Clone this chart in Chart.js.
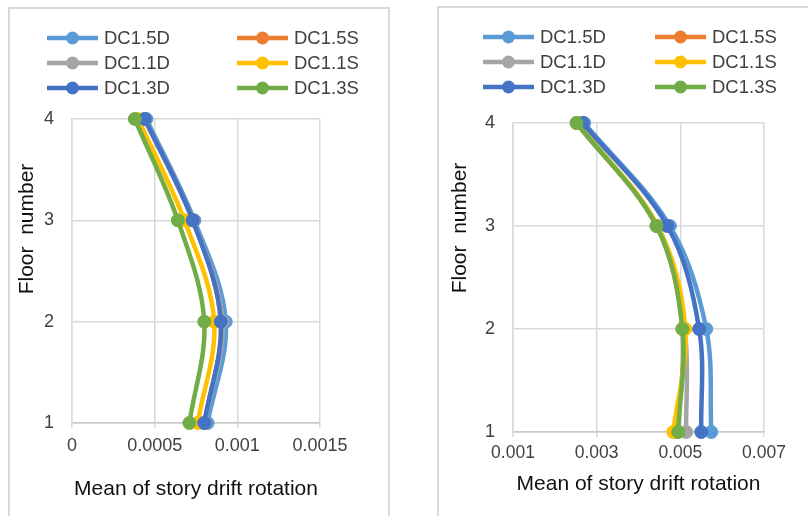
<!DOCTYPE html>
<html>
<head>
<meta charset="utf-8">
<script src="https://cdn.jsdelivr.net/npm/chart.js@4.4.1/dist/chart.umd.min.js"></script>
<style>
  body { margin: 0; background: #fff; width: 808px; height: 516px; overflow: hidden; position: relative; }
  .panel { position: absolute; border: 2px solid #d9d9d9; box-sizing: border-box; }
  canvas { position: absolute; }
</style>
</head>
<body>
<div class="panel" style="left:8px;top:7px;width:382px;height:560px"></div>
<div class="panel" style="left:437px;top:6px;width:420px;height:560px"></div>
<canvas id="left" width="376" height="506" style="left:10px;top:10px"></canvas>
<canvas id="right" width="368" height="506" style="left:440px;top:10px"></canvas>
<script>
// floors and labels
const floors = [1, 2, 3, 4];
const floorLabels = ['1', '2', '3', '4'];
const seriesNames = ['DC1.5D', 'DC1.5S', 'DC1.1D', 'DC1.1S', 'DC1.3D', 'DC1.3S'];
const seriesColors = ['#5b9bd5', '#ed7d31', '#a5a5a5', '#ffc000', '#4472c4', '#70ad47'];
const xTitle = 'Mean of story drift rotation';
const yTitleText = 'Floor  number';

// left chart: drift rotation at floors 1..4
const leftDC15D = [0.00082, 0.00093, 0.00074, 0.00045];
const leftDC15S = [0.00080, 0.00090, 0.00073, 0.00044];
const leftDC11D = [0.00080, 0.00091, 0.00073, 0.00044];
const leftDC11S = [0.00076, 0.00086, 0.00068, 0.00040];
const leftDC13D = [0.00080, 0.00090, 0.00073, 0.00044];
const leftDC13S = [0.00071, 0.00080, 0.00064, 0.00038];
const leftXTicks = [0, 0.0005, 0.001, 0.0015];
const leftXLabels = ['0', '0.0005', '0.001', '0.0015'];

// right chart
const rightDC15D = [0.00574, 0.00562, 0.00475, 0.00270];
const rightDC15S = [0.00492, 0.00505, 0.00443, 0.00252];
const rightDC11D = [0.00514, 0.00510, 0.00445, 0.00253];
const rightDC11S = [0.00483, 0.00512, 0.00446, 0.00254];
const rightDC13D = [0.00550, 0.00545, 0.00469, 0.00267];
const rightDC13S = [0.00495, 0.00505, 0.00443, 0.00252];
const rightXTicks = [0.001, 0.003, 0.005, 0.007];
const rightXLabels = ['0.001', '0.003', '0.005', '0.007'];

Chart.defaults.font.family = '"Liberation Sans", Arial, sans-serif';

// excel style legend, two columns
const excelLegend = {
  id: 'excelLegend',
  afterDraw(chart, args, opts) {
    const ctx = chart.ctx;
    ctx.save();
    ctx.font = opts.fontSize + 'px "Liberation Sans", Arial, sans-serif';
    ctx.textBaseline = 'middle';
    chart.data.datasets.forEach((ds, i) => {
      const x = opts.cols[i % 2];
      const y = opts.rows[Math.floor(i / 2)];
      ctx.strokeStyle = ds.borderColor;
      ctx.lineWidth = 4.5;
      ctx.beginPath();
      ctx.moveTo(x, y);
      ctx.lineTo(x + opts.lineLen, y);
      ctx.stroke();
      ctx.fillStyle = ds.borderColor;
      ctx.beginPath();
      ctx.arc(x + opts.lineLen / 2, y, 6.5, 0, Math.PI * 2);
      ctx.fill();
      ctx.fillStyle = '#404040';
      ctx.fillText(ds.label, x + opts.lineLen + 6, y + 1);
    });
    ctx.restore();
  }
};

// rotated y axis title (excel puts it above centre)
const yTitle = {
  id: 'yTitle',
  afterDraw(chart, args, opts) {
    const ctx = chart.ctx;
    ctx.save();
    ctx.translate(opts.x, opts.y);
    ctx.rotate(-Math.PI / 2);
    ctx.font = '21px "Liberation Sans", Arial, sans-serif';
    ctx.fillStyle = '#111';
    ctx.textAlign = 'center';
    ctx.textBaseline = 'middle';
    ctx.fillText(opts.text, 0, 0);
    ctx.restore();
  }
};

function makeChart(id, cfg) {
  const datasets = cfg.series.map((vals, i) => ({
    label: seriesNames[i],
    data: floors.map((f, k) => ({ x: vals[k], y: f })),
    borderColor: seriesColors[i],
    backgroundColor: seriesColors[i],
    pointBackgroundColor: seriesColors[i],
    pointBorderColor: seriesColors[i],
    borderWidth: 4.5,
    pointRadius: 6.5,
    pointBorderWidth: 1,
    tension: 0.35,
    clip: false,
    order: seriesNames.length - 1 - i
  }));

  return new Chart(document.getElementById(id), {
    type: 'line',
    data: { datasets },
    options: {
      responsive: false,
      animation: false,
      events: [],
      layout: { padding: { left: 0, top: cfg.plotTop, right: cfg.padRight, bottom: 0 } },
      elements: { line: { capBezierPoints: false } },
      plugins: {
        legend: { display: false },
        tooltip: { enabled: false },
        excelLegend: cfg.legend,
        yTitle: { text: yTitleText, x: cfg.yTitleX, y: cfg.yTitleY }
      },
      scales: {
        x: {
          type: 'linear',
          min: cfg.xTicks[0],
          max: cfg.xTicks[cfg.xTicks.length - 1],
          afterBuildTicks: s => { s.ticks = cfg.xTicks.map(v => ({ value: v })); },
          afterFit: s => { s.height = cfg.xHeight; },
          ticks: {
            callback: (v, i) => cfg.xLabels[i],
            font: { size: cfg.tickSize },
            color: '#404040',
            padding: cfg.xTickPad,
            maxRotation: 0,
            autoSkip: false
          },
          grid: { color: '#d9d9d9', lineWidth: 1.5, tickLength: 5 },
          border: { color: '#c8c8c8', width: 1.5 },
          title: {
            display: true,
            text: xTitle,
            font: { size: 21 },
            color: '#111',
            padding: { top: 0, bottom: cfg.xTitlePad }
          }
        },
        y: {
          type: 'linear',
          min: 1,
          max: 4,
          afterBuildTicks: s => { s.ticks = floors.map(v => ({ value: v })); },
          afterFit: s => { s.width = cfg.yWidth; },
          ticks: {
            callback: (v, i) => floorLabels[i],
            font: { size: 18 },
            color: '#404040',
            padding: 18
          },
          grid: { color: '#d9d9d9', lineWidth: 1.5, drawTicks: false },
          border: { color: '#d9d9d9', width: 1.5 }
        }
      }
    },
    plugins: [excelLegend, yTitle]
  });
}

makeChart('left', {
  series: [leftDC15D, leftDC15S, leftDC11D, leftDC11S, leftDC13D, leftDC13S],
  xTicks: leftXTicks,
  xLabels: leftXLabels,
  plotTop: 109,
  padRight: 66,
  yWidth: 62,
  xHeight: 93,
  xTickPad: 7,
  xTitlePad: 14,
  tickSize: 18,
  yTitleX: 17.5,
  yTitleY: 219,
  legend: { cols: [37, 227], rows: [28, 53, 78], lineLen: 51, fontSize: 18.5 }
});

makeChart('right', {
  series: [rightDC15D, rightDC15S, rightDC11D, rightDC11S, rightDC13D, rightDC13S],
  xTicks: rightXTicks,
  xLabels: rightXLabels,
  plotTop: 113,
  padRight: 44,
  yWidth: 73,
  xHeight: 84,
  xTickPad: 6,
  xTitlePad: 19,
  tickSize: 17.5,
  yTitleX: 20,
  yTitleY: 218,
  legend: { cols: [43, 215], rows: [27, 52, 77], lineLen: 51, fontSize: 18.5 }
});
</script>
</body>
</html>
